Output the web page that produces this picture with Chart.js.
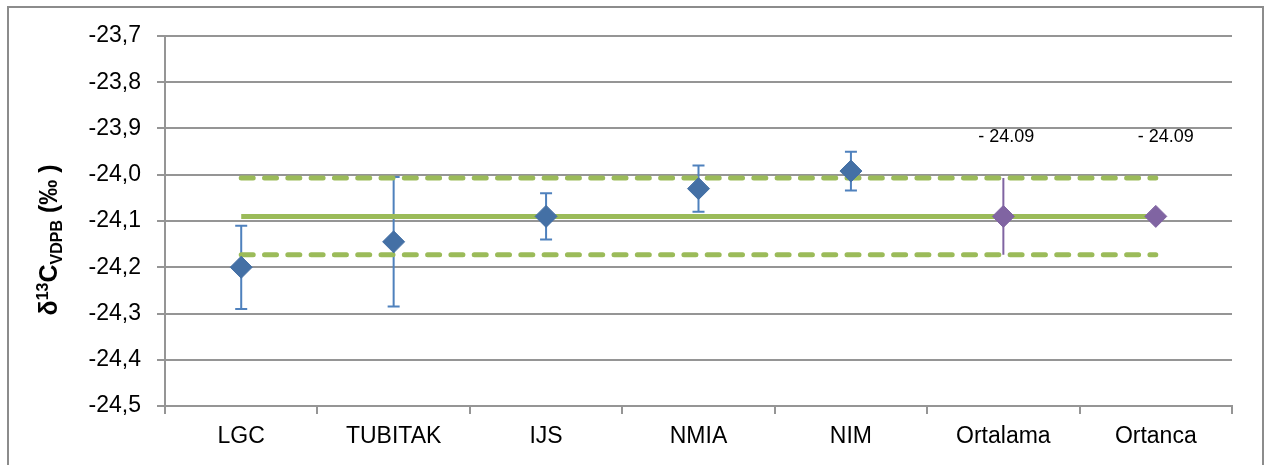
<!DOCTYPE html>
<html>
<head>
<meta charset="utf-8">
<script src="https://cdn.jsdelivr.net/npm/chart.js@4"></script>
<style>
  html, body { margin: 0; padding: 0; background: #fff; overflow: hidden; }
  #frame { position: absolute; left: 7px; top: 6px; width: 1253px; height: 500px; border: 2px solid #8c8c8c; }
  #wrap { position: absolute; left: 0; top: 0; width: 1265px; height: 465px; }
</style>
</head>
<body>
<div id="frame"></div>
<div id="wrap"><canvas id="chart" width="1265" height="465"></canvas></div>
<script>
var labs = ['LGC', 'TUBITAK', 'IJS', 'NMIA', 'NIM', 'Ortalama', 'Ortanca'];
var labValues = [-24.20, -24.145, -24.09, -24.03, -23.992, null, null];
var labErrors = [0.09, 0.14, 0.05, 0.05, 0.042, null, null];
var statValues = [null, null, null, null, null, -24.09, -24.09];
var statErrors = [null, null, null, null, null, 0.083, null];
var meanLine = [-24.09, -24.09, -24.09, -24.09, -24.09, -24.09, -24.09];
var upperLine = [-24.007, -24.007, -24.007, -24.007, -24.007, -24.007, -24.007];
var lowerLine = [-24.173, -24.173, -24.173, -24.173, -24.173, -24.173, -24.173];
var statLabels = [null, null, null, null, null, '- 24.09', '- 24.09'];

var FONT = "'Liberation Sans', Arial, sans-serif";
var GRAY = '#959595';

// error bars, drawn under the markers
var errorBars = {
  id: 'errorBars',
  beforeDatasetsDraw: function (chart) {
    var ctx = chart.ctx, x = chart.scales.x, y = chart.scales.y;
    function bars(vals, errs, color, cap) {
      ctx.strokeStyle = color;
      ctx.lineWidth = 2;
      for (var i = 0; i < vals.length; i++) {
        if (vals[i] == null || errs[i] == null) continue;
        var px = x.getPixelForValue(i);
        var top = y.getPixelForValue(vals[i] + errs[i]);
        var bot = y.getPixelForValue(vals[i] - errs[i]);
        ctx.beginPath();
        ctx.moveTo(px, top); ctx.lineTo(px, bot);
        if (cap) {
          ctx.moveTo(px - 6, top); ctx.lineTo(px + 6, top);
          ctx.moveTo(px - 6, bot); ctx.lineTo(px + 6, bot);
        }
        ctx.stroke();
      }
    }
    ctx.save();
    bars(labValues, labErrors, '#4F81BD', true);
    bars(statValues, statErrors, '#8064A2', false);
    ctx.restore();
  }
};

// labels above the statistics points and the y axis title
var extras = {
  id: 'extras',
  afterDraw: function (chart) {
    var ctx = chart.ctx, x = chart.scales.x, y = chart.scales.y;
    ctx.save();
    ctx.fillStyle = '#000';
    ctx.font = '18px ' + FONT;
    ctx.textAlign = 'center';
    ctx.textBaseline = 'middle';
    for (var i = 0; i < statLabels.length; i++) {
      if (!statLabels[i]) continue;
      var dx = i === statLabels.length - 1 ? 10 : 3;
      ctx.fillText(statLabels[i], x.getPixelForValue(i) + dx, y.getPixelForValue(statValues[i]) - 79);
    }
    // rotated title: δ13C VDPB (‰ )
    var parts = [
      { t: '\u03B4', f: 'bold 25px ', dy: 0 },
      { t: '13', f: 'bold 16px ', dy: -9 },
      { t: 'C', f: 'bold 25px ', dy: 0 },
      { t: 'VDPB', f: 'bold 16px ', dy: 5 },
      { t: ' (\u2030 )', f: 'bold 25px ', dy: 0 }
    ];
    var total = 0;
    parts.forEach(function (p) { ctx.font = p.f + FONT; p.w = ctx.measureText(p.t).width; total += p.w; });
    ctx.translate(48, 240);
    ctx.rotate(-Math.PI / 2);
    ctx.textAlign = 'left';
    ctx.textBaseline = 'alphabetic';
    var cx = -total / 2;
    parts.forEach(function (p) {
      ctx.font = p.f + FONT;
      ctx.fillText(p.t, cx, 9 + p.dy);
      cx += p.w;
    });
    ctx.restore();
  }
};

new Chart(document.getElementById('chart'), {
  type: 'line',
  data: {
    labels: labs,
    datasets: [
      {
        label: 'Labs', data: labValues, showLine: false,
        pointStyle: 'rectRot', pointRadius: 11, pointHoverRadius: 11,
        backgroundColor: '#4470A5', borderColor: '#4470A5', borderWidth: 1
      },
      {
        label: 'Stats', data: statValues, showLine: false,
        pointStyle: 'rectRot', pointRadius: 11, pointHoverRadius: 11,
        backgroundColor: '#8064A2', borderColor: '#8064A2', borderWidth: 1
      },
      {
        label: 'Mean', data: meanLine, borderColor: '#9BBB59', borderWidth: 5,
        pointRadius: 0, fill: false
      },
      {
        label: 'Upper', data: upperLine, borderColor: '#9BBB59', borderWidth: 5,
        borderDash: [12, 11.3], borderCapStyle: 'round', pointRadius: 0, fill: false
      },
      {
        label: 'Lower', data: lowerLine, borderColor: '#9BBB59', borderWidth: 5,
        borderDash: [12, 11.3], borderCapStyle: 'round', pointRadius: 0, fill: false
      }
    ]
  },
  options: {
    responsive: false,
    animation: false,
    layout: { padding: { left: 0, top: 36, right: 33, bottom: 0 } },
    plugins: { legend: { display: false }, tooltip: { enabled: false } },
    scales: {
      x: {
        offset: true,
        grid: { offset: true, drawOnChartArea: false, color: GRAY, lineWidth: 2, tickLength: 8 },
        border: { color: GRAY, width: 2 },
        ticks: { color: '#000', font: { family: FONT, size: 23 }, padding: 9, maxRotation: 0 },
        afterFit: function (s) { s.height = 59; }
      },
      y: {
        min: -24.5, max: -23.7,
        grid: { color: GRAY, lineWidth: 2, tickLength: 8 },
        border: { color: GRAY, width: 2 },
        ticks: {
          stepSize: 0.1, color: '#000', font: { family: FONT, size: 23 }, padding: 16,
          callback: function (v) { return v.toFixed(1).replace('.', ','); }
        },
        afterFit: function (s) { s.width = 165; }
      }
    }
  },
  plugins: [errorBars, extras]
});
</script>
</body>
</html>
